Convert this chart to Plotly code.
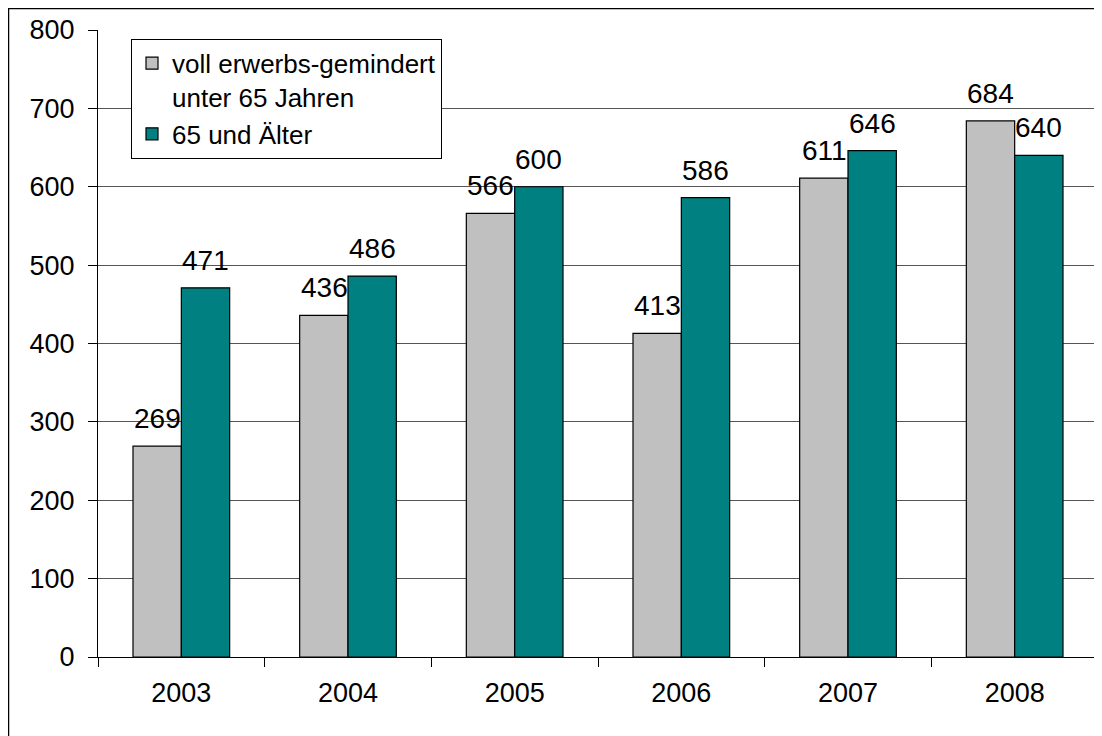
import plotly.graph_objects as go

years = ["2003", "2004", "2005", "2006", "2007", "2008"]
unter_65 = [269, 436, 566, 413, 611, 684]
ab_65 = [471, 486, 600, 586, 646, 640]

name_unter = "voll erwerbs-gemindert<br>unter 65 Jahren"
name_ab = "65 und Älter"

gray = "#C0C0C0"
teal = "#008080"
font = "Liberation Sans, Arial, sans-serif"

fig = go.Figure()
fig.add_trace(go.Bar(
    x=years, y=unter_65, name=name_unter,
    marker=dict(color=gray, line=dict(color="black", width=1.2))
))
fig.add_trace(go.Bar(
    x=years, y=ab_65, name=name_ab,
    marker=dict(color=teal, line=dict(color="black", width=1.2))
))

# data labels above the bars, Excel style
# (category axis: numeric-looking strings would be read as indices, so use the index)
annotations = []
for series, shift in ((unter_65, -24), (ab_65, 24)):
    for i, v in enumerate(series):
        annotations.append(dict(
            x=i, y=v, xref="x", yref="y", text=str(v),
            showarrow=False, xshift=shift, yshift=10, yanchor="bottom",
            font=dict(family=font, size=28, color="black")
        ))

fig.update_layout(
    width=1102, height=736,
    margin=dict(l=90, r=12, t=22, b=87),
    plot_bgcolor="white",
    paper_bgcolor="white",
    font=dict(family=font, size=26, color="black"),
    barmode="group",
    bargap=0.42,
    bargroupgap=0,
    showlegend=True,
    legend=dict(
        x=0.033, y=0.986, xanchor="left", yanchor="top",
        bgcolor="white", bordercolor="black", borderwidth=1,
        font=dict(family=font, size=26, color="black"),
        valign="top", tracegroupgap=0
    ),
    annotations=annotations,
    shapes=[dict(
        type="rect", xref="paper", yref="paper",
        x0=-0.0895, x1=1.03, y0=-0.2, y1=1.0343,
        line=dict(color="black", width=1.5), fillcolor="rgba(0,0,0,0)",
        layer="below"
    )],
)
fig.update_xaxes(
    type="category", range=[-0.5, len(years) - 0.5],
    showline=True, linecolor="black", linewidth=1,
    ticks="outside", tickson="boundaries", ticklen=9, tickcolor="black",
    ticklabelstandoff=12, automargin=False,
    tickfont=dict(size=27), showgrid=False
)
fig.update_yaxes(
    range=[0, 800], dtick=100,
    showline=True, linecolor="black", linewidth=1,
    ticks="outside", ticklen=9, tickcolor="black",
    ticklabelstandoff=8, automargin=False,
    tickfont=dict(size=27),
    showgrid=True, gridcolor="#555555", gridwidth=1,
    zeroline=False
)

fig.write_html("out.html")
